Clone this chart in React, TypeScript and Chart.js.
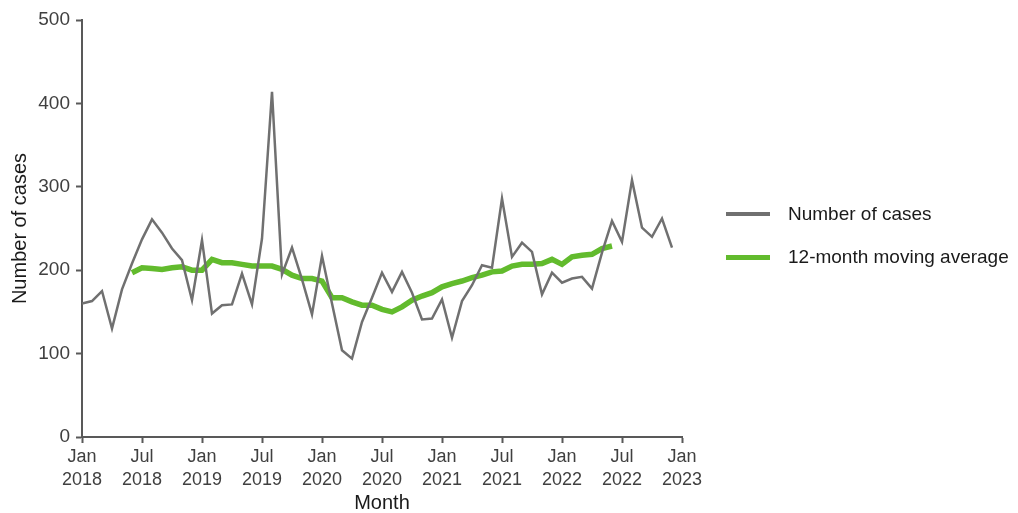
import { useEffect, useRef } from 'react'
import { Chart, registerables } from 'chart.js'

Chart.register(...registerables)

// monthly cases, Jan 2018 .. Dec 2022
const cases = [
  160, 163, 175, 130, 177, 208, 237, 261, 245, 226, 212, 164,
  236, 148, 158, 159, 196, 159, 238, 414, 195, 227, 189, 147,
  217, 160, 104, 94, 138, 167, 197, 174, 198, 173, 141, 142,
  165, 119, 163, 182, 206, 203, 286, 216, 233, 222, 171, 197,
  185, 190, 192, 178, 221, 259, 234, 308, 251, 240, 262, 227,
]

// 12-month moving average, Jun 2018 .. Jun 2022
const maStart = 5
const movingAvg = [
  197, 203, 202, 201, 203, 204, 200,
  200, 213, 209, 209, 207, 205, 205, 205, 201, 194, 190, 190,
  187, 167, 167, 162, 158, 158, 153, 150, 156, 164, 169, 173,
  180, 184, 187, 191, 194, 198, 199, 205, 207, 207, 208, 213,
  207, 216, 218, 219, 226, 229,
]

const tickLabels = [
  ['Jan', '2018'], ['Jul', '2018'], ['Jan', '2019'], ['Jul', '2019'],
  ['Jan', '2020'], ['Jul', '2020'], ['Jan', '2021'], ['Jul', '2021'],
  ['Jan', '2022'], ['Jul', '2022'], ['Jan', '2023'],
]

const seriesNames = ['Number of cases', '12-month moving average']
const GREY = '#707070'
const GREEN = '#62bb2d'
const AXIS = '#595959'

export default function App() {
  const ref = useRef<HTMLCanvasElement>(null)
  const inst = useRef<Chart | null>(null)

  useEffect(() => {
    if (!ref.current) return
    if (inst.current) inst.current.destroy()
    inst.current = new Chart(ref.current, {
      type: 'line',
      data: {
        datasets: [
          {
            label: seriesNames[0],
            data: cases.map((v, i) => ({ x: i, y: v })),
            borderColor: GREY,
            borderWidth: 2.5,
            pointRadius: 0,
            tension: 0,
          },
          {
            label: seriesNames[1],
            data: movingAvg.map((v, i) => ({ x: i + maStart, y: v })),
            borderColor: GREEN,
            borderWidth: 5.5,
            pointRadius: 0,
            tension: 0,
          },
        ],
      },
      options: {
        responsive: true,
        maintainAspectRatio: false,
        animation: false,
        layout: { padding: { left: 0, right: 336, top: 20, bottom: 0 } },
        plugins: { legend: { display: false }, tooltip: { enabled: false } },
        scales: {
          x: {
            type: 'linear',
            min: 0,
            max: 60,
            afterFit: (s: any) => { s.height = 76 },
            border: { color: AXIS, width: 2 },
            grid: { drawOnChartArea: false, tickLength: 6, tickColor: AXIS, tickWidth: 2 },
            ticks: {
              stepSize: 6,
              autoSkip: false,
              maxRotation: 0,
              padding: 2,
              color: '#404040',
              font: { family: "'Liberation Sans Narrow', 'Liberation Sans', Arial", size: 18, lineHeight: 1.3 },
              callback: (v: any) => tickLabels[Number(v) / 6],
            },
            title: {
              display: true,
              text: 'Month',
              color: '#1a1a1a',
              padding: { top: 0, bottom: 0 },
              font: { family: "'Liberation Sans Narrow', 'Liberation Sans', Arial", size: 20, lineHeight: 1.0 },
            },
          },
          y: {
            min: 0,
            max: 500,
            afterFit: (s: any) => { s.width = 82 },
            border: { color: AXIS, width: 2 },
            grid: { drawOnChartArea: false, tickLength: 6, tickColor: AXIS, tickWidth: 2 },
            ticks: {
              stepSize: 100,
              padding: 6,
              color: '#404040',
              font: { family: "'Liberation Sans', Arial", size: 19 },
            },
            title: {
              display: true,
              text: 'Number of cases',
              color: '#1a1a1a',
              padding: { top: 8, bottom: 0 },
              font: { family: "'Liberation Sans', Arial", size: 20, lineHeight: 1.2 },
            },
          },
        },
      },
    })
    return () => inst.current?.destroy()
  }, [])

  const legendRow = (name: string, color: string, h: number, top: number) => (
    <div key={name} style={{ position: 'absolute', left: 726, top, display: 'flex', alignItems: 'center', height: 24 }}>
      <div style={{ width: 44, height: h, background: color }} />
      <span style={{ marginLeft: 18, fontFamily: "'Liberation Sans', Arial", fontSize: 19, color: '#1a1a1a', whiteSpace: 'nowrap' }}>{name}</span>
    </div>
  )

  return (
    <div style={{ position: 'fixed', left: 0, top: 0, width: 1018, height: 513, background: '#fff' }}>
      <canvas ref={ref} />
      {legendRow(seriesNames[0], GREY, 4, 202)}
      {legendRow(seriesNames[1], GREEN, 5, 245)}
    </div>
  )
}
